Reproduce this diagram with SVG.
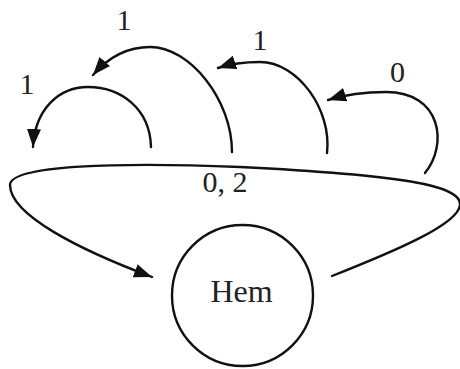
<svg xmlns="http://www.w3.org/2000/svg" width="460" height="369" viewBox="0 0 460 369">
<style>
.e{fill:none;stroke:#111;stroke-width:2.4;stroke-linecap:round}
.t{font-family:"Liberation Serif","DejaVu Serif",serif;font-size:30px;fill:#222;text-anchor:middle}
</style>
<defs>
<marker id="a" markerUnits="userSpaceOnUse" markerWidth="20" markerHeight="14" refX="18" refY="7" orient="auto">
<path d="M0,0 L18,7 L0,14 Z" fill="#111"/>
</marker>
</defs>
<rect width="460" height="369" fill="#fff"/>
<g id="Hem">
<circle cx="242.5" cy="295.5" r="70.5" fill="none" stroke="#111" stroke-width="2.4"/>
<text class="t" x="241.5" y="302" style="font-size:32px">Hem</text>
</g>
<g id="connectors">
<path class="e" marker-end="url(#a)" d="M151,147 C150,108 120,87 88,87 C58,87 35,110 33,147"/>
<path class="e" marker-end="url(#a)" d="M232,152 C232,100 190,47 150,47 C125,47 106,60 93,75"/>
<path class="e" marker-end="url(#a)" d="M327,153 C332,110 298,62 260,62 C242,62 230,64 218,68"/>
<path class="e" marker-end="url(#a)" d="M425,173 C448,145 442,92 386,92 C362,92 344,95 328,100"/>
<path class="e" marker-end="url(#a)" d="M332,276 C390,253 458,225 460,205 C462,185 400,175 240,167 C120,162 10,165 10,185 C10,215 80,250 152,277"/>
</g>
<g id="labels">
<text class="t" x="27" y="94">1</text>
<text class="t" x="124" y="30">1</text>
<text class="t" x="260" y="50">1</text>
<text class="t" x="397.5" y="82">0</text>
<text class="t" x="225" y="192">0, 2</text>
</g>
</svg>
